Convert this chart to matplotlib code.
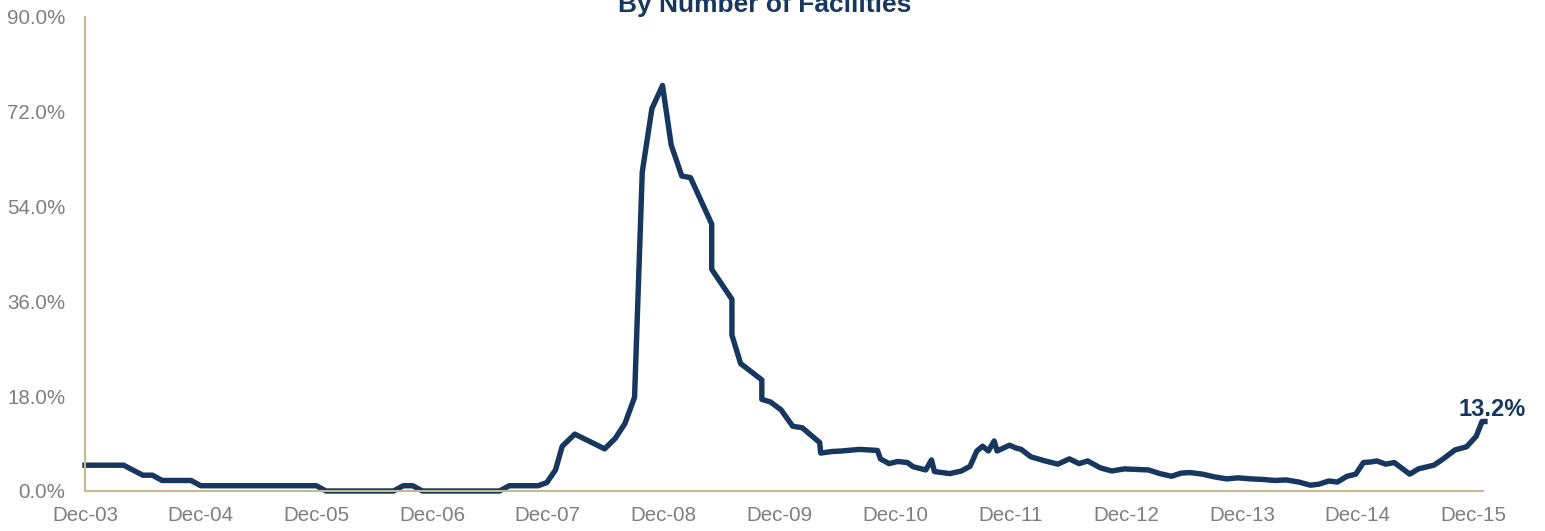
import matplotlib.pyplot as plt

plt.rcParams['font.family'] = ['Liberation Sans', 'DejaVu Sans']

# months since Dec-03 and the share of facilities (%)
months = [0, 4, 6, 7, 8, 11, 12, 24, 25, 32, 33, 34, 35, 43, 44, 47, 47.9, 48.8, 49.5, 50.8,
          53.9, 55.0, 56.0, 57.0, 57.8, 58.8, 59.9, 60.8, 61.9, 62.8, 65.0, 65.0, 67.1, 67.1,
          68.0, 70.2, 70.2, 71.1, 72.2, 73.4, 74.4, 76.2, 76.3, 77.5, 78.5, 80.3, 82.2, 82.5,
          83.4, 84.3, 85.3, 85.9, 87.2, 87.8, 88.1, 89.7, 90.9, 91.8, 92.5, 93.1, 93.7, 94.3,
          94.6, 95.9, 96.5, 97.1, 98.1, 99.6, 100.9, 102.1, 103.1, 104.0, 105.3, 106.5, 107.8,
          109.0, 110.3, 111.5, 112.7, 113.7, 114.6, 115.9, 117.1, 118.4, 119.6, 120.9, 122.1,
          123.4, 124.6, 125.9, 127.1, 128.0, 129.0, 129.9, 130.9, 131.8, 132.6, 133.3, 134.0,
          134.9, 135.8, 137.4, 138.3, 139.9, 140.8, 142.1, 143.3, 144.3, 144.9, 145.2]
values = [4.9, 4.9, 3.0, 3.0, 2.0, 2.0, 1.0, 1.0, 0.0, 0.0, 1.0, 1.0, 0.0, 0.0, 1.0, 1.0, 1.6, 4.0, 8.5, 10.8,
          8.0, 10.0, 12.8, 17.8, 60.6, 72.6, 77.0, 65.7, 59.8, 59.5, 50.7, 42.1, 36.4, 29.6,
          24.2, 21.1, 17.4, 16.9, 15.4, 12.3, 12.0, 9.2, 7.2, 7.5, 7.6, 7.9, 7.7, 6.1,
          5.2, 5.6, 5.4, 4.6, 4.0, 5.9, 3.7, 3.3, 3.8, 4.7, 7.6, 8.5, 7.6, 9.5,
          7.6, 8.7, 8.2, 7.9, 6.5, 5.7, 5.1, 6.1, 5.2, 5.7, 4.4, 3.8, 4.2,
          4.1, 4.0, 3.3, 2.8, 3.4, 3.5, 3.2, 2.7, 2.3, 2.5, 2.3, 2.2,
          2.0, 2.1, 1.7, 1.1, 1.3, 1.9, 1.7, 2.8, 3.2, 5.4, 5.5, 5.7,
          5.1, 5.4, 3.2, 4.2, 4.9, 6.0, 7.8, 8.4, 10.4, 13.2, 13.2]

xtick_pos = [0, 12, 24, 36, 48, 60, 72, 84, 96, 108, 120, 132, 144]
xtick_labels = ['Dec-03', 'Dec-04', 'Dec-05', 'Dec-06', 'Dec-07', 'Dec-08', 'Dec-09',
                'Dec-10', 'Dec-11', 'Dec-12', 'Dec-13', 'Dec-14', 'Dec-15']
ytick_pos = [0, 18, 36, 54, 72, 90]

navy = '#17375E'
tan = '#C4B98F'
grey = '#7F7F7F'

fig = plt.figure(figsize=(15.45, 5.31), dpi=100)
ax = fig.add_axes([85 / 1545, 40 / 531, (1483 - 85) / 1545, (491 - 17) / 531])

ax.plot(months, values, color=navy, lw=3.9, solid_joinstyle='round', clip_on=False)

ax.set_xlim(0, 145)
ax.set_ylim(0, 90)
ax.set_xticks(xtick_pos)
ax.set_xticklabels(xtick_labels)
ax.set_yticks(ytick_pos)
ax.set_yticklabels([f'{v:.1f}%' for v in ytick_pos])
ax.tick_params(axis='both', length=0, labelsize=14.8, labelcolor=grey)
ax.tick_params(axis='y', pad=14)
ax.tick_params(axis='x', pad=11)

for side in ['top', 'right']:
    ax.spines[side].set_visible(False)
for side in ['left', 'bottom']:
    ax.spines[side].set_color(tan)
    ax.spines[side].set_linewidth(1.5)

ax.annotate(f'{values[-1]:.1f}%', xy=(months[-1], values[-1]), xytext=(5, 4),
            textcoords='offset points', ha='center', va='baseline',
            fontsize=17, fontweight='bold', color=navy, annotation_clip=False)

# title sits partly above the canvas, as in the source image
fig.text(765 / 1545, 1 - 12 / 531, 'By Number of Facilities', ha='center', va='baseline',
         fontsize=19, fontweight='bold', color=navy)

fig.savefig('out.png', dpi=100)
